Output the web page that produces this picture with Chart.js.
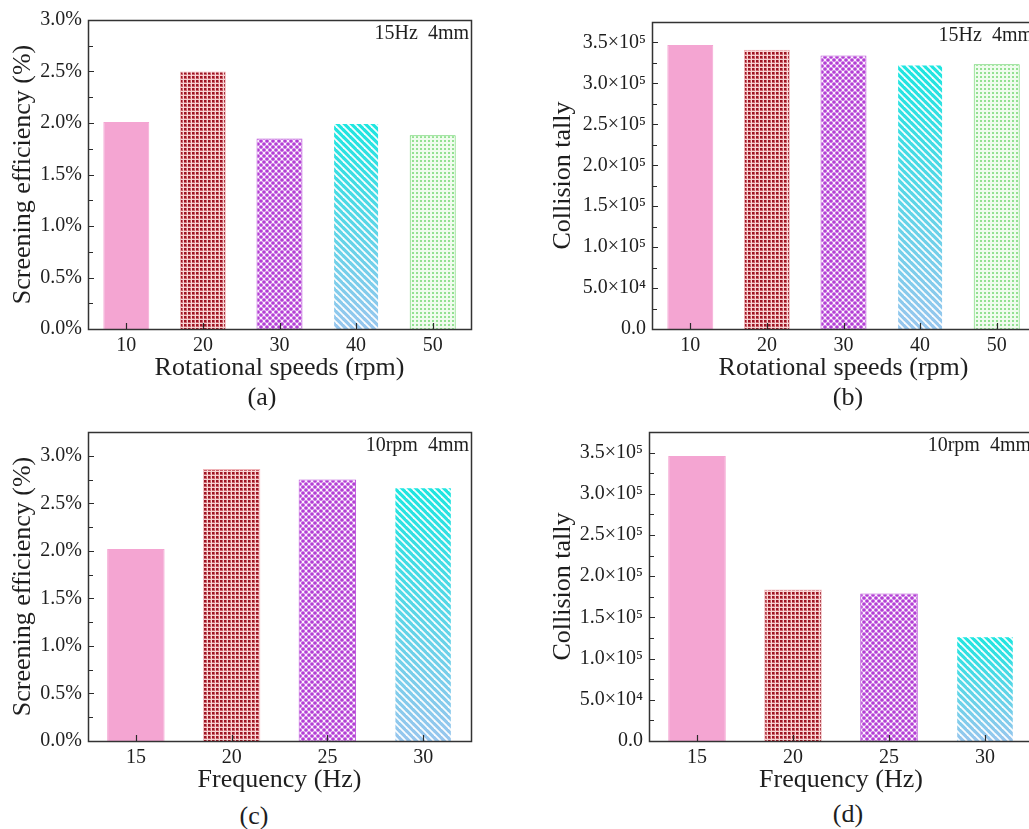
<!DOCTYPE html>
<html>
<head>
<meta charset="utf-8">
<script src="https://cdn.jsdelivr.net/npm/chart.js@4.4.1/dist/chart.umd.min.js"></script>
<style>
  html, body { margin: 0; padding: 0; background: #ffffff; }
  body { width: 1029px; height: 829px; position: relative; overflow: hidden; }
  canvas { position: absolute; }
  .tag { position: absolute; width: 60px; margin-left: -30px; text-align: center;
         font-family: "Liberation Serif", "Times New Roman", serif; font-size: 26px;
         line-height: 30px; height: 30px; margin-top: -15px; color: #1e1e1e; }
</style>
</head>
<body>
<canvas id="chartA" width="480" height="384" style="left:0px;top:0px"></canvas>
<canvas id="chartB" width="504" height="384" style="left:540px;top:0px"></canvas>
<canvas id="chartC" width="480" height="384" style="left:0px;top:412px"></canvas>
<canvas id="chartD" width="502" height="384" style="left:540px;top:412px"></canvas>
<div class="tag" style="left:262px;top:397px">(a)</div>
<div class="tag" style="left:848px;top:397px">(b)</div>
<div class="tag" style="left:254px;top:816px">(c)</div>
<div class="tag" style="left:848px;top:814px">(d)</div>
<script>
// ---- categories ----
const speedLabels = ['10', '20', '30', '40', '50'];   // rotational speed, rpm
const freqLabels  = ['15', '20', '25', '30'];         // vibration frequency, Hz

// ---- series values ----
const effBySpeed  = [2.01, 2.50, 1.85, 2.00, 1.88];               // screening efficiency, %
const collBySpeed = [347000, 341000, 334000, 323000, 323500];     // collision tally
const effByFreq   = [2.02, 2.86, 2.75, 2.67];                     // screening efficiency, %
const collByFreq  = [346000, 184000, 179000, 127000];             // collision tally

// ---- tick values and labels ----
const effTicks = [0, 0.5, 1.0, 1.5, 2.0, 2.5, 3.0];
const effTickLabels = ['0.0%', '0.5%', '1.0%', '1.5%', '2.0%', '2.5%', '3.0%'];
const collTicks = [0, 50000, 100000, 150000, 200000, 250000, 300000, 350000];
const collTickLabels = ['0.0', '5.0×10⁴', '1.0×10⁵', '1.5×10⁵', '2.0×10⁵', '2.5×10⁵', '3.0×10⁵', '3.5×10⁵'];

const SERIF = '"Liberation Serif", "Times New Roman", serif';
const INK = '#1e1e1e';
Chart.defaults.font.family = SERIF;
Chart.defaults.color = INK;

// ---- fill patterns ----
function tile(size, paint) {
  const c = document.createElement('canvas');
  c.width = size; c.height = size;
  paint(c.getContext('2d'));
  return document.createElement('canvas').getContext('2d').createPattern(c, 'repeat');
}
const pinkFill = '#F4A5D2';
const gridFill = tile(4, g => {            // dark red squares on a pale pink grid
  g.fillStyle = '#F8D4D4'; g.fillRect(0, 0, 4, 4);
  g.fillStyle = '#C9606A'; g.fillRect(0, 0, 3, 3);
  g.fillStyle = '#9C1422'; g.fillRect(0, 0, 2, 2);
});
const dotFill = tile(6, g => {             // staggered purple dots
  g.fillStyle = '#FCF2FD'; g.fillRect(0, 0, 6, 6);
  g.fillStyle = '#B33FD5';
  [[0, 0], [6, 0], [0, 6], [6, 6], [3, 3]].forEach(([x, y]) => {
    g.beginPath(); g.arc(x, y, 1.85, 0, Math.PI * 2); g.fill();
  });
});
const greenFill = tile(4, g => {           // light green dots
  g.fillStyle = '#F0FCEE'; g.fillRect(0, 0, 4, 4);
  g.fillStyle = '#93E192'; g.fillRect(0, 0, 2, 2);
});

// cyan-to-blue gradient with white diagonal stripes, fitted to the bar height
function stripeFill(ctx) {
  const chart = ctx.chart;
  if (!chart.chartArea || !chart.scales.y) return '#5FD8E8';
  const ys = chart.scales.y;
  const v = chart.data.datasets[ctx.datasetIndex].data[ctx.dataIndex];
  const top = Math.round(ys.getPixelForValue(v));
  const base = Math.round(ys.getPixelForValue(0));
  const h = Math.max(base - top, 1);
  const P = 7;
  const c = document.createElement('canvas');
  c.width = P; c.height = h;
  const g = c.getContext('2d');
  const grad = g.createLinearGradient(0, 0, 0, h);
  grad.addColorStop(0, '#1CE6E0');
  grad.addColorStop(1, '#98C6EE');
  g.fillStyle = grad; g.fillRect(0, 0, P, h);
  g.strokeStyle = 'rgba(255,255,255,0.95)';
  g.lineWidth = 1.9;
  for (let s = -h - 2 * P; s < 2 * P; s += P) {
    g.beginPath(); g.moveTo(s, 0); g.lineTo(s + h, h); g.stroke();
  }
  const pat = chart.ctx.createPattern(c, 'repeat');
  pat.setTransform(new DOMMatrix().translate(0, top));
  return pat;
}

const fills = [pinkFill, gridFill, dotFill, null, greenFill];
const edges = ['#F4A5D2', '#F0B4B8', '#B94FD8', 'rgba(0,0,0,0)', '#62D262'];

// ---- frame box, inward ticks and corner note ----
const framePlugin = {
  id: 'frame',
  afterDatasetsDraw(chart, args, opts) {
    const { ctx, chartArea: a, scales: { x, y } } = chart;
    ctx.save();
    ctx.strokeStyle = '#2a2a2a';
    ctx.lineWidth = 1.2;
    ctx.beginPath();
    const vals = y.ticks.map(t => t.value);
    vals.forEach(v => {
      const py = Math.round(y.getPixelForValue(v)) + 0.5;
      ctx.moveTo(a.left, py); ctx.lineTo(a.left + 6, py);
    });
    const half = (vals[1] - vals[0]) / 2;
    for (let i = 0; i < vals.length; i++) {
      const m = vals[i] + half;
      if (m > y.max + 1e-9) break;
      const py = Math.round(y.getPixelForValue(m)) + 0.5;
      ctx.moveTo(a.left, py); ctx.lineTo(a.left + 5, py);
    }
    x.ticks.forEach((t, i) => {
      const px = Math.round(x.getPixelForTick(i)) + 0.5;
      ctx.moveTo(px, a.bottom); ctx.lineTo(px, a.bottom - 6);
    });
    ctx.stroke();
    ctx.lineWidth = 1.5;
    ctx.strokeStyle = '#333333';
    ctx.strokeRect(Math.round(a.left) + 0.5, Math.round(a.top) + 0.5,
                   Math.round(a.right - a.left), Math.round(a.bottom - a.top));
    ctx.fillStyle = INK;
    ctx.font = '20px ' + SERIF;
    ctx.textAlign = 'right';
    ctx.textBaseline = 'alphabetic';
    ctx.fillText(opts.note, a.right - 2, a.top + 19);
    ctx.restore();
  }
};

function makeChart(id, o) {
  return new Chart(document.getElementById(id), {
    type: 'bar',
    data: {
      labels: o.labels,
      datasets: [{
        data: o.values,
        backgroundColor: c => (c.dataIndex === 3 ? stripeFill(c) : fills[c.dataIndex]),
        borderColor: edges,
        borderWidth: 1,
        barPercentage: 0.6,
        categoryPercentage: 1.0
      }]
    },
    plugins: [framePlugin],
    options: {
      responsive: false,
      animation: false,
      devicePixelRatio: 1,
      layout: { padding: { top: o.padTop, right: 9, left: 0, bottom: 0 } },
      plugins: {
        legend: { display: false },
        tooltip: { enabled: false },
        frame: { note: o.note }
      },
      scales: {
        x: {
          grid: { display: false, drawTicks: false },
          border: { display: false },
          ticks: { font: { size: 20 }, color: INK, padding: 5, maxRotation: 0 },
          title: { display: true, text: o.xTitle, font: { size: 26 }, color: INK, padding: 0 },
          afterFit: s => { s.height = 55; }
        },
        y: {
          min: 0,
          max: o.yMax,
          grid: { display: false, drawTicks: false },
          border: { display: false },
          afterBuildTicks: s => { s.ticks = o.tickVals.map(v => ({ value: v })); },
          ticks: {
            font: { size: 20 }, color: INK, padding: 6,
            callback: v => o.tickText[o.tickVals.indexOf(v)]
          },
          title: { display: true, text: o.yTitle, font: { size: 26 }, color: INK,
                   padding: { top: 8, bottom: 0 } },
          afterFit: s => { s.width = o.yWidth; }
        }
      }
    }
  });
}

makeChart('chartA', {
  labels: speedLabels, values: effBySpeed, yMax: 3.0,
  tickVals: effTicks, tickText: effTickLabels,
  xTitle: 'Rotational speeds (rpm)', yTitle: 'Screening efficiency (%)',
  note: '15Hz  4mm', yWidth: 88, padTop: 20
});
makeChart('chartB', {
  labels: speedLabels, values: collBySpeed, yMax: 375000,
  tickVals: collTicks, tickText: collTickLabels,
  xTitle: 'Rotational speeds (rpm)', yTitle: 'Collision tally',
  note: '15Hz  4mm', yWidth: 112, padTop: 22
});
makeChart('chartC', {
  labels: freqLabels, values: effByFreq, yMax: 3.25,
  tickVals: effTicks, tickText: effTickLabels,
  xTitle: 'Frequency (Hz)', yTitle: 'Screening efficiency (%)',
  note: '10rpm  4mm', yWidth: 88, padTop: 20
});
makeChart('chartD', {
  labels: freqLabels, values: collByFreq, yMax: 375000,
  tickVals: collTicks, tickText: collTickLabels,
  xTitle: 'Frequency (Hz)', yTitle: 'Collision tally',
  note: '10rpm  4mm', yWidth: 109, padTop: 20
});
</script>
</body>
</html>
